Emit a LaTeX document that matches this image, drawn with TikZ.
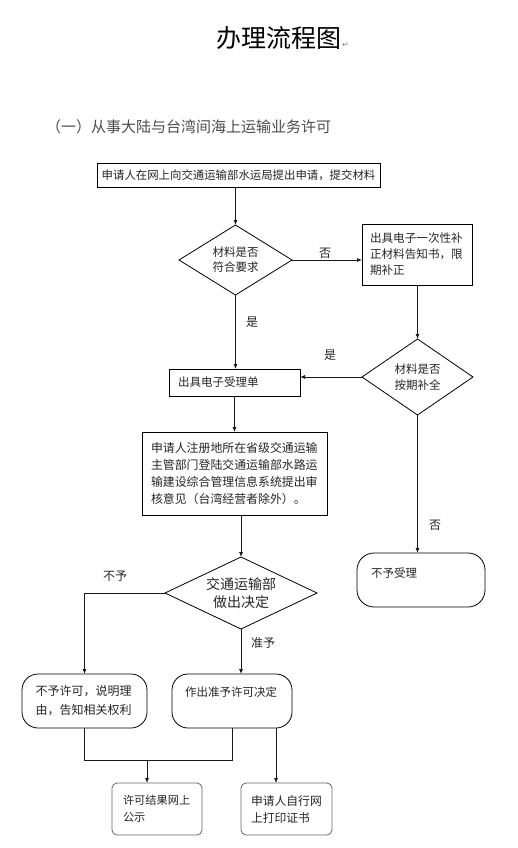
\documentclass[tikz,border=0pt]{standalone}
\usepackage{fontspec}
\setmainfont{Noto Sans CJK SC}
\newfontfamily\symfont{DejaVu Sans}
\usetikzlibrary{shapes.geometric,arrows.meta}
\begin{document}
\begin{tikzpicture}[x=1pt,y=-1pt,
  every node/.style={inner sep=0pt, outer sep=0pt, text=black!85},
  boxst/.style={draw=black, line width=0.8pt, rectangle, align=left},
  dia/.style={draw=black, line width=0.8pt, diamond, align=center},
  roundst/.style={draw=black, line width=0.8pt, rectangle, rounded corners=16pt, align=left},
  softst/.style={draw=black!60, line width=0.8pt, rectangle, rounded corners=5pt, align=left},
  conn/.style={line width=0.8pt, draw=black!90},
  arr/.style={conn, -{Latex[length=5pt,width=4pt]}},
  lab/.style={font=\fontsize{12}{12}\selectfont}
]
\useasboundingbox (0,0) rectangle (518,848);
\fill[white] (0,0) rectangle (518,848);

% titles
\node[anchor=west, font=\fontsize{25}{25}\selectfont, text=black] (title) at (216,38) {办理流程图};
\node[anchor=base west, font=\fontsize{8}{8}\selectfont, text=black!50] (ret) at ([xshift=1pt]title.base east) {\symfont ↵};
\node[anchor=west, font=\fontsize{15}{15}\selectfont, text=black!70] (sub) at (46,127) {（一）从事大陆与台湾间海上运输业务许可};

% nodes
\node[boxst, minimum width=283pt, minimum height=24pt, font=\fontsize{11.4}{14}\selectfont] (b1) at (238.5,175) {申请人在网上向交通运输部水运局提出申请，提交材料};
\node[dia, minimum width=113pt, minimum height=70pt, aspect=1.6, font=\fontsize{11.5}{15}\selectfont] (d1) at (235.5,260) {材料是否\\符合要求};
\node[boxst, minimum width=110pt, minimum height=61pt, text width=94pt, font=\fontsize{11.6}{16}\selectfont] (rb1) at (417,254.5) {出具电子一次性补\\正材料告知书，限\\期补正};
\node[dia, minimum width=111pt, minimum height=76pt, aspect=1.45, font=\fontsize{11.5}{16.5}\selectfont] (d2) at (417.5,377) {材料是否\\按期补全};
\node[boxst, minimum width=131pt, minimum height=27pt, text width=113pt, font=\fontsize{11.5}{14}\selectfont] (acc) at (234.5,382.5) {出具电子受理单};
\node[boxst, minimum width=185pt, minimum height=83pt, text width=167pt, font=\fontsize{11.9}{17.3}\selectfont] (big) at (234.5,473.5) {申请人注册地所在省级交通运输\\主管部门登陆交通运输部水路运\\输建设综合管理信息系统提出审\\核意见（台湾经营者除外）。};
\node[dia, minimum width=152pt, minimum height=72pt, aspect=2.1, font=\fontsize{14}{17.5}\selectfont] (d3) at (241,593) {交通运输部\\做出决定};
\node[roundst, rounded corners=17pt, minimum width=128pt, minimum height=54pt, text width=100pt, font=\fontsize{11.5}{14}\selectfont] (noacc) at (421,580) {不予受理\\\mbox{}};
\node[roundst, minimum width=125pt, minimum height=54pt, text width=98pt, font=\fontsize{12}{19}\selectfont] (deny) at (84.5,701) {不予许可，说明理\\由，告知相关权利};
\node[roundst, minimum width=120pt, minimum height=54pt, text width=94pt, font=\fontsize{11.5}{19}\selectfont] (grant) at (232,701) {作出准予许可决定\\\mbox{}};
\node[softst, minimum width=90pt, minimum height=52pt, text width=68pt, font=\fontsize{11.2}{17}\selectfont] (pub) at (157,809) {许可结果网上\\公示};
\node[softst, minimum width=91pt, minimum height=52pt, text width=71pt, font=\fontsize{11.8}{17}\selectfont] (print) at (286.5,809) {申请人自行网\\上打印证书};

% connectors
\draw[arr] (b1.south -| d1.north) -- (d1.north);
\draw[arr] (d1.east) -- (d1.east -| rb1.west);
\draw[arr] (rb1.south -| d2.north) -- (d2.north);
\draw[arr] (d1.south) -- (d1.south |- acc.north);
\draw[arr] (d2.west) -- (d2.west -| acc.east);
\draw[arr] (acc.south) -- (acc.south |- big.north);
\draw[arr] (big.south -| d3.north) -- (d3.north);
\draw[arr] (d2.south) -- (d2.south |- noacc.north);
\draw[arr] (d3.west) -| (deny.north);
\draw[arr] (d3.south) -- (d3.south |- grant.north);
\coordinate (jr) at (232,760);
\coordinate (jp) at (147,760);
\draw[conn] (deny.south) |- (jr) -- (grant.south);
\draw[arr] (jp) -- (jp |- pub.north);
\draw[arr] ([xshift=44pt]grant.south) -- ([xshift=44pt]grant.south |- print.north);

% labels
\node[lab] (l1) at (325,253) {否};
\node[lab] (l2) at (252,322) {是};
\node[lab] (l3) at (330,355) {是};
\node[lab] (l4) at (435,525) {否};
\node[lab] (l5) at (115,576) {不予};
\node[lab] (l6) at (263,643) {准予};
\end{tikzpicture}
\end{document}
